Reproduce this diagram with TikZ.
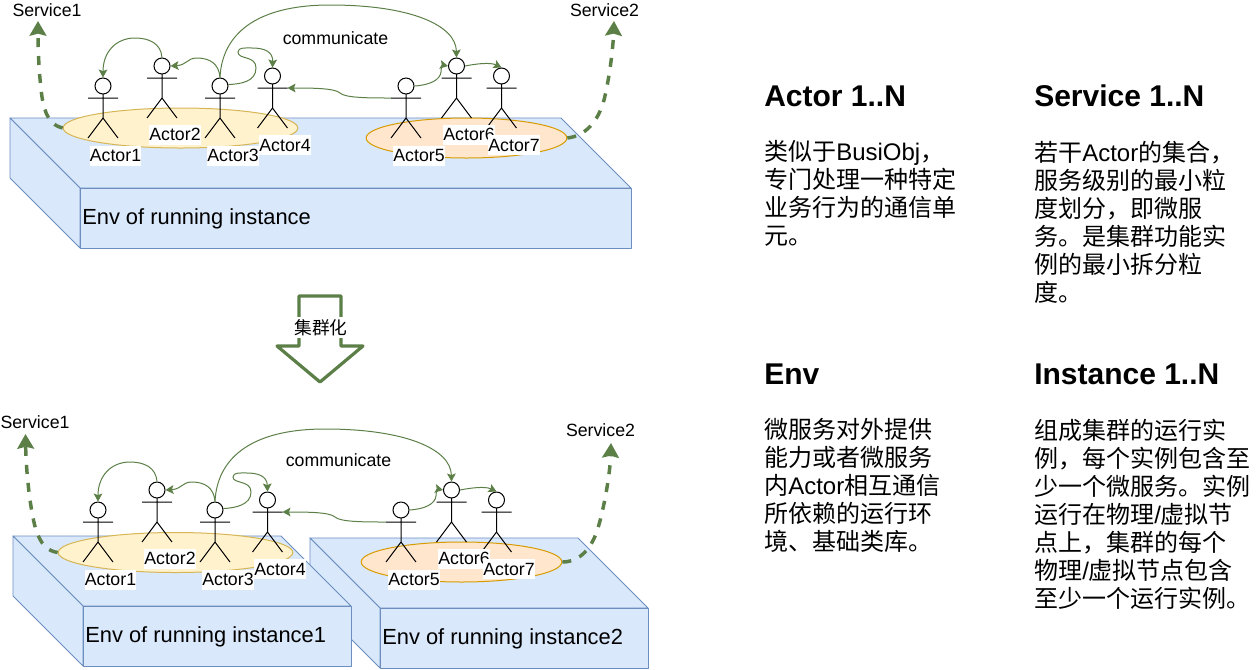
\documentclass[tikz,border=0pt]{standalone}
\usepackage{fontspec}
\setmainfont{Liberation Sans}
\newfontfamily\cjk{Noto Sans CJK SC}
\usetikzlibrary{shapes.geometric,arrows.meta}
\definecolor{boxfill}{HTML}{DAE8FC}
\definecolor{boxline}{HTML}{6C8EBF}
\definecolor{ellafill}{HTML}{FFF2CC}
\definecolor{ellaline}{HTML}{D6B656}
\definecolor{ellbfill}{HTML}{FFE6CC}
\definecolor{ellbline}{HTML}{D79B00}
\definecolor{grn}{HTML}{5B7F47}
\newcommand{\zh}[1]{{\cjk #1}}
\newcommand{\actor}[3]{%
  \node[headc] (#1) at (#2,#3) {};
  \coordinate (#1-n) at (#2,#3+8);
  \coordinate (#1-hip) at (#2,#3+32);
  \coordinate (#1-l) at (#2-15,#3+12);
  \coordinate (#1-r) at (#2+15,#3+12);
  \draw[stick] (#1-n) -- (#1-hip) (#1-l) -- (#1-r)
     (#2-15,#3+52) -- (#1-hip) -- (#2+15,#3+52);
}
\newcommand{\cuboid}[6]{% name, x0, y0, topw, depth, h
  \draw[boxs] (#2,#3) -- (#2+#4,#3) -- (#2+#4+#5,#3+#5) -- (#2+#5,#3+#5) -- cycle;
  \draw[boxs] (#2,#3) -- (#2+#5,#3+#5) -- (#2+#5,#3+#5+#6) -- (#2,#3+#6) -- cycle;
  \draw[boxs] (#2+#5,#3+#5) rectangle (#2+#4+#5,#3+#5+#6);
}
\tikzset{
  x=0.75pt,y=-0.75pt,
  headc/.style={circle,draw=black,fill=white,line width=0.75pt,minimum size=12pt,inner sep=0pt},
  stick/.style={draw=black,line width=0.75pt},
  boxs/.style={draw=boxline,fill=boxfill,line width=0.7pt,line join=round},
  ella/.style={ellipse,draw=ellaline,fill=ellafill,line width=0.75pt,inner sep=0pt},
  ellb/.style={ellipse,draw=ellbline,fill=ellbfill,line width=0.75pt,inner sep=0pt},
  lab/.style={font=\fontsize{13.3}{15}\selectfont,inner sep=0pt},
  actlab/.style={lab,fill=white,minimum height=15pt},
  envlab/.style={font=\fontsize{16.4}{19}\selectfont,inner sep=0pt,anchor=west},
  comm/.style={draw=grn,line width=0.75pt,-{Stealth[length=6pt,width=6.5pt,inset=1.2pt]}},
  svc/.style={draw=grn,line width=2.6pt,dash pattern=on 6.75pt off 6.75pt,-{Stealth[length=11pt,width=12.5pt,inset=1.5pt]}},
  head/.style={font=\fontsize{22.5}{26}\bfseries\selectfont,inner sep=0pt,anchor=base west},
  body/.style={font=\fontsize{18}{21}\selectfont,inner sep=0pt,anchor=north west,align=left},
  bigarrow/.style={draw=grn,fill=white,line width=2.4pt,line join=round}
}
\begin{document}
\begin{tikzpicture}
\useasboundingbox (0,0) rectangle (1258,669);

%% ---------- top scene ----------
\cuboid{t}{10}{118}{551}{70}{60}
\node[envlab] (envt) at (82,218.5) {Env of running instance};
\node[ella,minimum width=176pt,minimum height=30pt] (ea) at (180.5,128) {};
\node[ellb,minimum width=150.5pt,minimum height=30pt] (eb) at (466.5,138) {};
\actor{a1}{103}{86}
\actor{a2}{162}{66}
\actor{a3}{220}{86}
\actor{a4}{272.5}{76}
\actor{a5}{406}{86}
\actor{a6}{456.5}{66}
\actor{a7}{501.5}{76}
\node[actlab] (la1) at (115.5,155.5) {Actor1};
\node[actlab] (la2) at (175,134.5) {Actor2};
\node[actlab] (la3) at (233,155.5) {Actor3};
\node[actlab] (la4) at (285,145) {Actor4};
\node[actlab] (la5) at (419,155.5) {Actor5};
\node[actlab] (la6) at (469,134.5) {Actor6};
\node[actlab] (la7) at (514,145) {Actor7};
\node[lab] (st1) at (47,10) {Service1};
\node[lab] (st2) at (604.5,10) {Service2};
\node[lab] (ct) at (335.5,38.5) {communicate};
\coordinate (st1t) at (38,21);
\coordinate (st2t) at (614,21);
\draw[svc] (ea.west) .. controls (50,125) and (45,115) .. (42,97) .. controls (39,75) and (38,50) .. (st1t);
\draw[svc] (eb.east) .. controls (585,136) and (598,122) .. (604,100) .. controls (609,80) and (613,50) .. (st2t);
\draw[comm] (a2.north) .. controls (161,44) and (150,38) .. (135,38) .. controls (116,38) and (103,52) .. (a1.north);
\draw[comm] (a3.north) .. controls (219,64) and (210,58) .. (197,58) .. controls (187,58) and (187,65) .. (a2.east);
\draw[comm] (a3.north) .. controls (222,35) and (255,5) .. (330,5) .. controls (410,5) and (456,25) .. (a6.north);
\draw[comm] (a3.10) .. controls (240,84) and (256,82) .. (256,68) .. controls (256,55) and (238,60) .. (238,52) .. controls (238,47) and (246,48) .. (252,48) .. controls (265,48) and (273,52) .. (a4.north);
\draw[comm] (a5-l) .. controls (370,98) and (345,98) .. (340,93) .. controls (335,88) and (310,88) .. (a4-r);
\draw[comm] (a5.east) .. controls (430,85) and (440,80) .. (441,72) .. controls (441,67) and (443,65) .. (a6.west);
\draw[comm] (a6.east) .. controls (475,64) and (490,62) .. (a7.north);

%% ---------- block arrow ----------
\draw[bigarrow] (299,296) -- (341,296) -- (341,346) -- (363,346) -- (320,382) -- (277,346) -- (299,346) -- cycle;
\node[lab,fill=white,inner ysep=2pt] (arrlab) at (321,327.5) {\zh{集群化}};

%% ---------- bottom scene ----------
\cuboid{b2}{310}{538}{268}{70}{60}
\cuboid{b1}{13}{536}{268}{70}{60}
\node[envlab] (envb1) at (85,636.5) {Env of running instance1};
\node[envlab] (envb2) at (382,638.5) {Env of running instance2};
\node[ella,minimum width=176pt,minimum height=30pt] (fa) at (175.5,552.5) {};
\node[ellb,minimum width=150.5pt,minimum height=30pt] (fb) at (461.5,562) {};
\actor{b1}{98}{510}
\actor{b2}{157}{490}
\actor{b3}{215}{510}
\actor{b4}{267.5}{500}
\actor{b5}{401}{510}
\actor{b6}{451.5}{490}
\actor{b7}{496.5}{500}
\node[actlab] (lb1) at (110.5,579.5) {Actor1};
\node[actlab] (lb2) at (170,558.5) {Actor2};
\node[actlab] (lb3) at (228,579.5) {Actor3};
\node[actlab] (lb4) at (280,569) {Actor4};
\node[actlab] (lb5) at (414,579.5) {Actor5};
\node[actlab] (lb6) at (464,558.5) {Actor6};
\node[actlab] (lb7) at (509,569) {Actor7};
\node[lab] (sb1) at (35,422.5) {Service1};
\node[lab] (sb2) at (600.5,430.5) {Service2};
\node[lab] (cb) at (338.5,460) {communicate};
\coordinate (sb1t) at (25.5,434);
\coordinate (sb2t) at (611,443);
\draw[svc] (fa.west) .. controls (48,551) and (41,545) .. (36,530) .. controls (30,510) and (26,470) .. (sb1t);
\draw[svc] (fb.east) .. controls (580,562) and (592,548) .. (598,528) .. controls (604,508) and (610,475) .. (sb2t);
\draw[comm] (b2.north) .. controls (156,468) and (145,462) .. (130,462) .. controls (111,462) and (98,476) .. (b1.north);
\draw[comm] (b3.north) .. controls (214,488) and (205,482) .. (192,482) .. controls (182,482) and (182,489) .. (b2.east);
\draw[comm] (b3.north) .. controls (217,459) and (250,429) .. (325,429) .. controls (405,429) and (451,449) .. (b6.north);
\draw[comm] (b3.10) .. controls (235,508) and (251,505) .. (251,492) .. controls (251,480) and (233,484) .. (233,477) .. controls (233,472) and (241,473) .. (247,473) .. controls (258,473) and (267,476) .. (b4.north);
\draw[comm] (b5-l) .. controls (365,522) and (340,522) .. (335,517) .. controls (330,512) and (305,512) .. (b4-r);
\draw[comm] (b5.east) .. controls (425,509) and (435,504) .. (436,496) .. controls (436,491) and (438,489) .. (b6.west);
\draw[comm] (b6.east) .. controls (470,488) and (485,486) .. (b7.north);

%% ---------- right text ----------
\node[head] (h1) at (764,106) {Actor 1..N};
\node[head] (h2) at (1034,106) {Service 1..N};
\node[head] (h3) at (764,384) {Env};
\node[head] (h4) at (1034,384) {Instance 1..N};
\node[body] (t1) at (764,140.5) {\zh{类似于}BusiObj\zh{，}\\ \zh{专门处理一种特定}\\ \zh{业务行为的通信单}\\ \zh{元。}};
\node[body] (t2) at (1034,140.5) {\zh{若干}Actor\zh{的集合，}\\ \zh{服务级别的最小粒}\\ \zh{度划分，即微服}\\ \zh{务。是集群功能实}\\ \zh{例的最小拆分粒}\\ \zh{度。}};
\node[body] (t3) at (764,418.5) {\zh{微服务对外提供}\\ \zh{能力或者微服务}\\ \zh{内}Actor\zh{相互通信}\\ \zh{所依赖的运行环}\\ \zh{境、基础类库。}};
\node[body] (t4) at (1034,418.5) {\zh{组成集群的运行实}\\ \zh{例，每个实例包含至}\\ \zh{少一个微服务。实例}\\ \zh{运行在物理}/\zh{虚拟节}\\ \zh{点上，集群的每个}\\ \zh{物理}/\zh{虚拟节点包含}\\ \zh{至少一个运行实例。}};
\end{tikzpicture}
\end{document}
